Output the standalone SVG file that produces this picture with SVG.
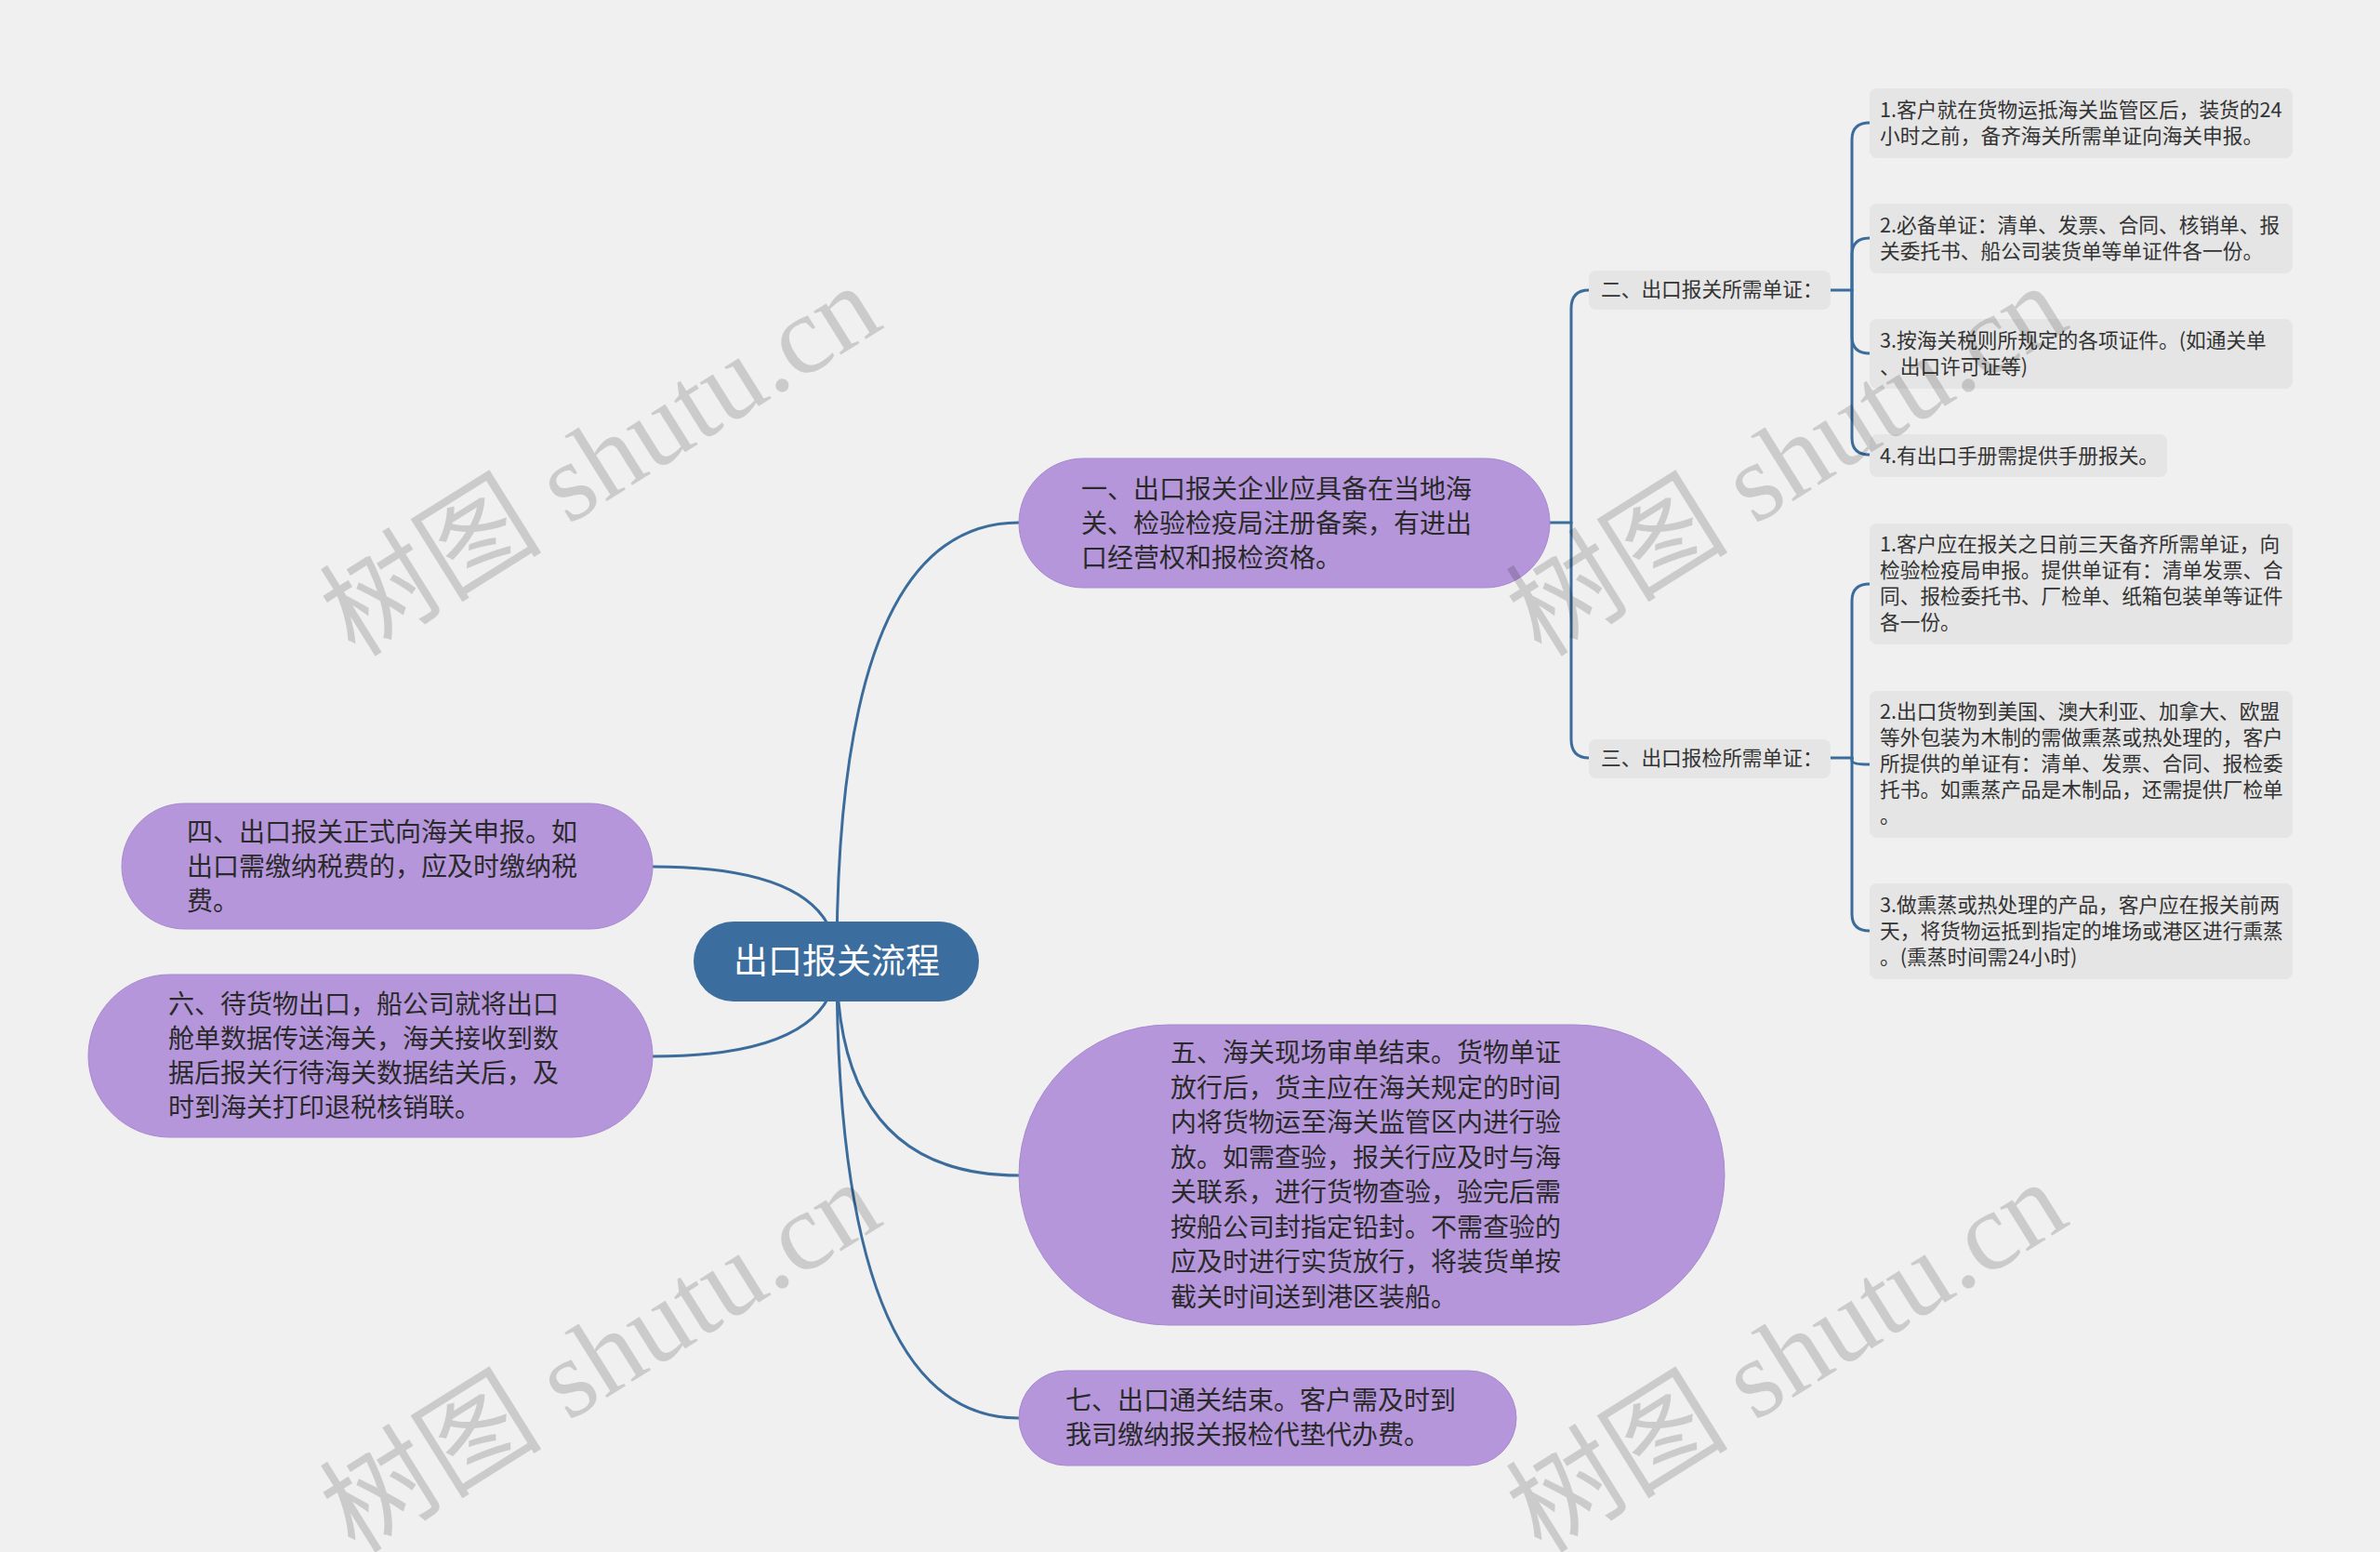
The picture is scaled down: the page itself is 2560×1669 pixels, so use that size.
<svg xmlns="http://www.w3.org/2000/svg" width="2560" height="1669" viewBox="0 0 2560 1669">
<style>
.bg{fill:#f0f0f0}
.edge{fill:none;stroke:#3b6c9b;stroke-width:3;stroke-linecap:round}
.main{fill:#b596da;stroke:#a888d0;stroke-width:1}
.root{fill:#3b6e9e}
.leaf{fill:#e5e5e5}
.t1{font-family:"Noto Sans CJK SC","Liberation Sans",sans-serif;font-size:28px;fill:#2a2a2a}
.t2{font-family:"Noto Sans CJK SC","Liberation Sans",sans-serif;font-size:21.7px;fill:#333}
.tr{font-family:"Noto Sans CJK SC","Liberation Sans",sans-serif;font-size:37px;fill:#fff}
.wm{font-family:"Liberation Serif","Noto Sans CJK SC",serif;font-size:120px;fill:#000;opacity:0.15}
</style>
<rect class="bg" x="0" y="0" width="2560" height="1669"/>
<g id="connectors">
<path class="edge" d="M900,1034 Q900,562 1096,562"/>
<path class="edge" d="M900,1034 Q900,932 702,932"/>
<path class="edge" d="M900,1034 Q900,1136 702,1136"/>
<path class="edge" d="M900,1034 Q900,1264 1096,1264"/>
<path class="edge" d="M900,1034 Q900,1525 1096,1525"/>
<path class="edge" d="M1667,562 L1690,562"/>
<path class="edge" d="M1690,562 L1690,332 Q1690,312 1709,312"/>
<path class="edge" d="M1690,562 L1690,795 Q1690,815 1709,815"/>
<path class="edge" d="M1969,312 L1992,312"/>
<path class="edge" d="M1992,312 L1992,150 Q1992,132 2011,132"/>
<path class="edge" d="M1992,312 L1992,274 Q1992,256 2011,256"/>
<path class="edge" d="M1992,312 L1992,362 Q1992,380 2011,380"/>
<path class="edge" d="M1992,312 L1992,471 Q1992,489 2011,489"/>
<path class="edge" d="M1969,815 L1992,815"/>
<path class="edge" d="M1992,815 L1992,646 Q1992,628 2011,628"/>
<path class="edge" d="M1992,815 L1992,818 Q1992,822 2011,822"/>
<path class="edge" d="M1992,815 L1992,983 Q1992,1001 2011,1001"/>
</g>
<g id="root">
<rect class="root" x="746" y="991" width="307" height="86" rx="43"/>
<text class="tr" x="900" y="1047" text-anchor="middle">出口报关流程</text>
</g>
<g id="n1">
<rect class="main" x="1096" y="493" width="571" height="139" rx="69.5"/>
<text class="t1"><tspan x="1163" y="536">一、出口报关企业应具备在当地海</tspan><tspan x="1163" y="573">关、检验检疫局注册备案，有进出</tspan><tspan x="1163" y="610">口经营权和报检资格。</tspan></text>
</g>
<g id="n4">
<rect class="main" x="131" y="864" width="571" height="135" rx="67.5"/>
<text class="t1"><tspan x="201" y="905">四、出口报关正式向海关申报。如</tspan><tspan x="201" y="942">出口需缴纳税费的，应及时缴纳税</tspan><tspan x="201" y="979">费。</tspan></text>
</g>
<g id="n6">
<rect class="main" x="95" y="1048" width="607" height="175" rx="87.5"/>
<text class="t1"><tspan x="181" y="1090">六、待货物出口，船公司就将出口</tspan><tspan x="181" y="1127">舱单数据传送海关，海关接收到数</tspan><tspan x="181" y="1164">据后报关行待海关数据结关后，及</tspan><tspan x="181" y="1201">时到海关打印退税核销联。</tspan></text>
</g>
<g id="n5">
<rect class="main" x="1096" y="1102" width="759" height="323" rx="161.5"/>
<text class="t1"><tspan x="1259" y="1142">五、海关现场审单结束。货物单证</tspan><tspan x="1259" y="1180">放行后，货主应在海关规定的时间</tspan><tspan x="1259" y="1217">内将货物运至海关监管区内进行验</tspan><tspan x="1259" y="1255">放。如需查验，报关行应及时与海</tspan><tspan x="1259" y="1292">关联系，进行货物查验，验完后需</tspan><tspan x="1259" y="1330">按船公司封指定铅封。不需查验的</tspan><tspan x="1259" y="1367">应及时进行实货放行，将装货单按</tspan><tspan x="1259" y="1405">截关时间送到港区装船。</tspan></text>
</g>
<g id="n7">
<rect class="main" x="1096" y="1474" width="535" height="102" rx="51"/>
<text class="t1"><tspan x="1146" y="1516">七、出口通关结束。客户需及时到</tspan><tspan x="1146" y="1553">我司缴纳报关报检代垫代办费。</tspan></text>
</g>
<g id="n2">
<rect class="leaf" x="1709" y="291" width="260" height="42" rx="8"/>
<text class="t2" x="1722" y="319">二、出口报关所需单证：</text>
</g>
<g id="n3">
<rect class="leaf" x="1709" y="795" width="260" height="42" rx="8"/>
<text class="t2" x="1722" y="823">三、出口报检所需单证：</text>
</g>
<g id="c1">
<rect class="leaf" x="2011" y="95" width="455" height="75" rx="8"/>
<text class="t2"><tspan x="2022" y="126">1.客户就在货物运抵海关监管区后，装货的24</tspan><tspan x="2022" y="154">小时之前，备齐海关所需单证向海关申报。</tspan></text>
</g>
<g id="c2">
<rect class="leaf" x="2011" y="219" width="455" height="75" rx="8"/>
<text class="t2"><tspan x="2022" y="250">2.必备单证：清单、发票、合同、核销单、报</tspan><tspan x="2022" y="278">关委托书、船公司装货单等单证件各一份。</tspan></text>
</g>
<g id="c3">
<rect class="leaf" x="2011" y="343" width="455" height="75" rx="8"/>
<text class="t2"><tspan x="2022" y="374">3.按海关税则所规定的各项证件。(如通关单</tspan><tspan x="2022" y="402">、出口许可证等)</tspan></text>
</g>
<g id="c4">
<rect class="leaf" x="2011" y="467" width="320" height="46" rx="8"/>
<text class="t2" x="2022" y="498">4.有出口手册需提供手册报关。</text>
</g>
<g id="d1">
<rect class="leaf" x="2011" y="563" width="455" height="130" rx="8"/>
<text class="t2"><tspan x="2022" y="593">1.客户应在报关之日前三天备齐所需单证，向</tspan><tspan x="2022" y="621">检验检疫局申报。提供单证有：清单发票、合</tspan><tspan x="2022" y="649">同、报检委托书、厂检单、纸箱包装单等证件</tspan><tspan x="2022" y="677">各一份。</tspan></text>
</g>
<g id="d2">
<rect class="leaf" x="2011" y="743" width="455" height="158" rx="8"/>
<text class="t2"><tspan x="2022" y="773">2.出口货物到美国、澳大利亚、加拿大、欧盟</tspan><tspan x="2022" y="801">等外包装为木制的需做熏蒸或热处理的，客户</tspan><tspan x="2022" y="829">所提供的单证有：清单、发票、合同、报检委</tspan><tspan x="2022" y="857">托书。如熏蒸产品是木制品，还需提供厂检单</tspan><tspan x="2022" y="885">。</tspan></text>
</g>
<g id="d3">
<rect class="leaf" x="2011" y="950" width="455" height="103" rx="8"/>
<text class="t2"><tspan x="2022" y="981">3.做熏蒸或热处理的产品，客户应在报关前两</tspan><tspan x="2022" y="1009">天，将货物运抵到指定的堆场或港区进行熏蒸</tspan><tspan x="2022" y="1037">。(熏蒸时间需24小时)</tspan></text>
</g>
<g id="watermarks">
<text class="wm" x="382" y="708" transform="rotate(-32 382 708)">树图 shutu.cn</text>
<text class="wm" x="1658" y="708" transform="rotate(-32 1658 708)">树图 shutu.cn</text>
<text class="wm" x="382" y="1672" transform="rotate(-32 382 1672)">树图 shutu.cn</text>
<text class="wm" x="1658" y="1672" transform="rotate(-32 1658 1672)">树图 shutu.cn</text>
</g>
</svg>
